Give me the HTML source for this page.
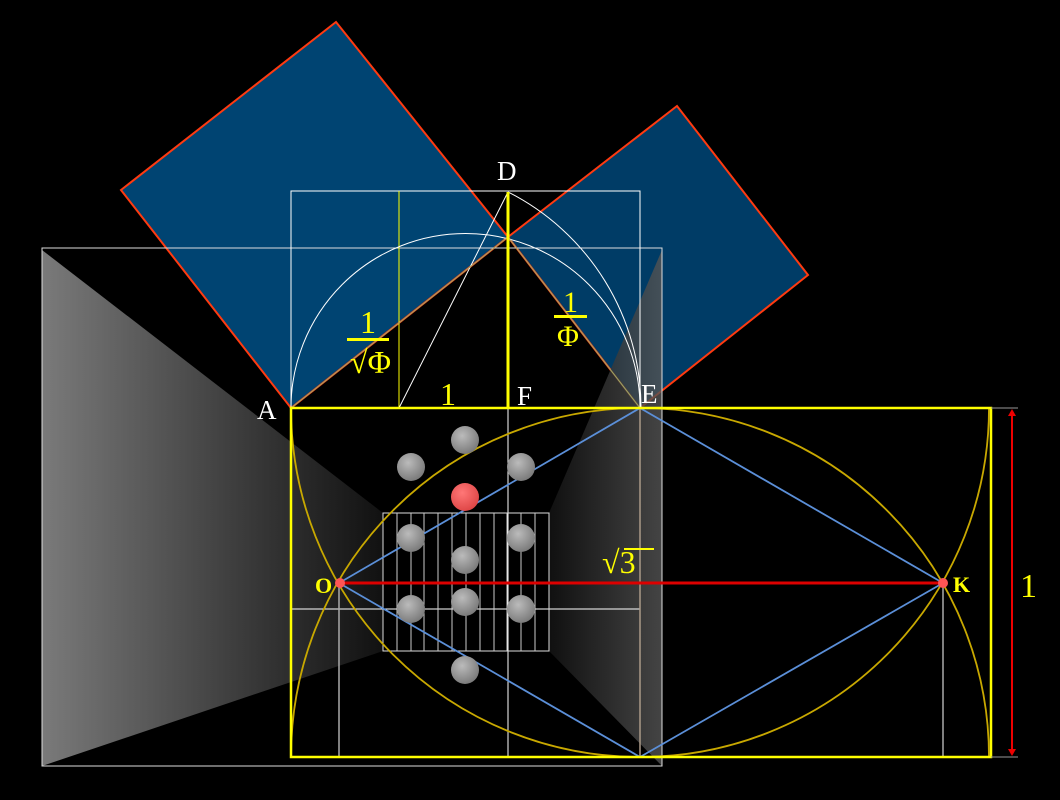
<!DOCTYPE html>
<html><head><meta charset="utf-8"><style>
html,body{margin:0;padding:0;background:#000;width:1060px;height:800px;overflow:hidden;}
svg{display:block}
text{font-family:"Liberation Serif",serif;}
</style></head><body>
<svg width="1060" height="800" viewBox="0 0 1060 800" xmlns="http://www.w3.org/2000/svg">
<defs>
<linearGradient id="gl" x1="42" y1="0" x2="383" y2="0" gradientUnits="userSpaceOnUse">
<stop offset="0" stop-color="#7a7a7a"/><stop offset="0.6" stop-color="#3a3a3a"/><stop offset="1" stop-color="#111"/></linearGradient>
<linearGradient id="gr" x1="549" y1="0" x2="662" y2="0" gradientUnits="userSpaceOnUse">
<stop offset="0" stop-color="#141414"/><stop offset="1" stop-color="#555"/></linearGradient>
<radialGradient id="sg" cx="0.4" cy="0.35" r="0.7"><stop offset="0" stop-color="#bbb"/><stop offset="1" stop-color="#777"/></radialGradient>
<radialGradient id="sr" cx="0.4" cy="0.35" r="0.7"><stop offset="0" stop-color="#f77"/><stop offset="1" stop-color="#d44"/></radialGradient>
<clipPath id="rc"><rect x="291" y="408" width="700" height="349"/></clipPath>
</defs>
<rect width="1060" height="800" fill="#000"/>
<polygon points="42,250 383,513 383,651 42,766" fill="url(#gl)"/>
<polygon points="121,190 336,22 508,237 291,408" fill="#004472" stroke="#ff3a10" stroke-width="2"/>
<polygon points="508,237 677,106 808,275 640,408" fill="#003c66" stroke="#ff3a10" stroke-width="2"/>
<polygon points="662,250 549,513 549,651 662,766" fill="url(#gr)" opacity="0.8"/>
<rect x="42" y="248" width="620" height="518" fill="none" stroke="#ddd" stroke-width="1"/>
<rect x="291" y="191" width="349" height="217" fill="none" stroke="#fff" stroke-width="1"/>
<line x1="399" y1="191" x2="399" y2="408" stroke="#ff0" stroke-width="1"/>
<path d="M291,408 A174.5,174.5 0 0 1 640,408" fill="none" stroke="#fff" stroke-width="1"/>
<path d="M508,192 A242,242 0 0 1 641,408" fill="none" stroke="#fff" stroke-width="1"/>
<line x1="399" y1="408" x2="508" y2="192" stroke="#fff" stroke-width="1"/>
<line x1="291" y1="408" x2="508" y2="237" stroke="#9a6" stroke-width="1"/>
<line x1="508" y1="237" x2="640" y2="408" stroke="#9a6" stroke-width="1"/>
<line x1="508" y1="192" x2="508" y2="408" stroke="#ff0" stroke-width="3"/>
<line x1="508" y1="408" x2="508" y2="757" stroke="#fff" stroke-width="1"/>
<line x1="291" y1="609" x2="640" y2="609" stroke="#fff" stroke-width="1"/>
<line x1="640" y1="408" x2="640" y2="757" stroke="#a98" stroke-width="1.5"/>
<line x1="339" y1="583" x2="339" y2="757" stroke="#aaa" stroke-width="1.5"/>
<line x1="943" y1="583" x2="943" y2="757" stroke="#aaa" stroke-width="1.5"/>
<rect x="383" y="513" width="166" height="138" fill="none" stroke="#ddd" stroke-width="1"/>
<g stroke="#ccc" stroke-width="1">
<line x1="397" y1="513" x2="397" y2="651"/><line x1="411" y1="513" x2="411" y2="651"/><line x1="424" y1="513" x2="424" y2="651"/><line x1="438" y1="513" x2="438" y2="651"/><line x1="452" y1="513" x2="452" y2="651"/><line x1="466" y1="513" x2="466" y2="651"/><line x1="480" y1="513" x2="480" y2="651"/><line x1="494" y1="513" x2="494" y2="651"/><line x1="507" y1="513" x2="507" y2="651"/><line x1="521" y1="513" x2="521" y2="651"/><line x1="535" y1="513" x2="535" y2="651"/>
</g>
<g clip-path="url(#rc)" fill="none" stroke="#c8a800" stroke-width="1.8">
<circle cx="640" cy="408" r="349"/>
<circle cx="640" cy="757" r="349"/>
</g>
<g stroke="#5b8fd8" stroke-width="1.8">
<line x1="339" y1="583" x2="640" y2="408"/><line x1="339" y1="583" x2="640" y2="757"/>
<line x1="943" y1="583" x2="640" y2="408"/><line x1="943" y1="583" x2="640" y2="757"/>
</g>
<line x1="339" y1="583" x2="943" y2="583" stroke="#d00" stroke-width="3"/>
<rect x="291" y="408" width="700" height="349" fill="none" stroke="#ff0" stroke-width="2.5"/>
<line x1="991" y1="408" x2="1018" y2="408" stroke="#999" stroke-width="1"/>
<line x1="991" y1="757" x2="1018" y2="757" stroke="#999" stroke-width="1"/>
<line x1="1012" y1="412" x2="1012" y2="753" stroke="#e00" stroke-width="2"/>
<polygon points="1012,409 1008,416 1016,416" fill="#e00"/>
<polygon points="1012,756 1008,749 1016,749" fill="#e00"/>
<g fill="url(#sg)">
<circle cx="465" cy="440" r="14"/><circle cx="411" cy="467" r="14"/><circle cx="521" cy="467" r="14"/>
<circle cx="411" cy="538" r="14"/><circle cx="521" cy="538" r="14"/><circle cx="465" cy="560" r="14"/>
<circle cx="411" cy="609" r="14"/><circle cx="465" cy="602" r="14"/><circle cx="521" cy="609" r="14"/>
<circle cx="465" cy="670" r="14"/>
</g>
<circle cx="465" cy="497" r="14" fill="url(#sr)"/>
<circle cx="340" cy="583" r="5" fill="#f55"/>
<circle cx="943" cy="583" r="5" fill="#f55"/>
<g fill="#fff" font-size="27">
<text x="257" y="419">A</text>
<text x="497" y="180">D</text>
<text x="517" y="405">F</text>
<text x="641" y="403">E</text>
</g>
<g fill="#ff0">
<text x="440" y="405" font-size="32">1</text>
<text x="360" y="333" font-size="32">1</text>
<rect x="347" y="338" width="42" height="3"/>
<text x="350" y="373" font-size="32">√Φ</text>
<text x="563" y="312" font-size="30">1</text>
<rect x="554" y="315" width="33" height="3"/>
<text x="557" y="346" font-size="30">Φ</text>
<text x="602" y="573" font-size="32">√3</text>
<rect x="624" y="548" width="30" height="2"/>
<text x="315" y="593" font-size="22" font-weight="bold">O</text>
<text x="953" y="592" font-size="22" font-weight="bold">K</text>
<text x="1020" y="597" font-size="34">1</text>
</g>
</svg>
</body></html>
